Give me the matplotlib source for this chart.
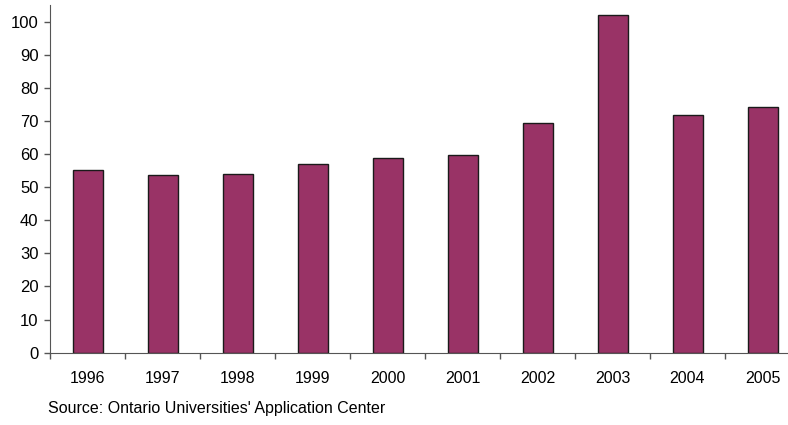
import matplotlib.pyplot as plt
import numpy as np

plt.rcParams['font.family'] = ['Liberation Sans', 'DejaVu Sans']

years = ['1996', '1997', '1998', '1999', '2000', '2001', '2002', '2003', '2004', '2005']
values = [55.1, 53.8, 54.1, 57.1, 58.8, 59.8, 69.3, 102.0, 71.7, 74.2]
y_ticks = [0, 10, 20, 30, 40, 50, 60, 70, 80, 90, 100]

fig = plt.figure(figsize=(7.88, 4.25), dpi=100)
# axis runs off the right edge like in the original
ax = fig.add_axes([50 / 788, 72.3 / 425, 750 / 788, 347.7 / 425])

x = np.arange(len(years))
ax.bar(x, values, width=0.4, color='#993366', edgecolor='#1a1a1a', linewidth=1.0)

ax.set_xlim(-0.5, len(years) - 0.5)
ax.set_ylim(0, 105)

ax.spines['top'].set_visible(False)
ax.spines['right'].set_visible(False)
ax.spines['left'].set_color('#555555')
ax.spines['bottom'].set_color('#555555')

ax.set_yticks(y_ticks)
ax.tick_params(axis='y', direction='out', length=4.3, width=1, color='#555555',
               labelsize=12, pad=4)

# major ticks at category boundaries, labels at category centres
ax.set_xticks(np.arange(len(years)) - 0.5)
ax.set_xticklabels([])
ax.set_xticks(x, minor=True)
ax.set_xticklabels(years, minor=True)
ax.tick_params(axis='x', which='major', direction='out', length=4, width=1, color='#555555')
ax.tick_params(axis='x', which='minor', length=0, labelsize=11.5, pad=13)

fig.text(48 / 788, 1 - 408 / 425, "Source: Ontario Universities' Application Center",
         fontsize=11.5, va='center', ha='left')

fig.savefig('out.png', dpi=100)
